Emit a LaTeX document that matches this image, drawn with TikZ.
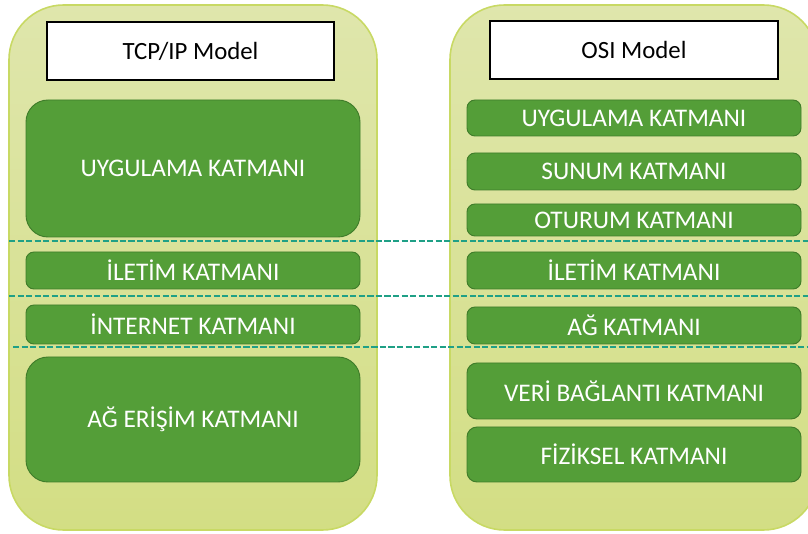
\documentclass[tikz,border=0pt]{standalone}
\usepackage{fontspec}
\setmainfont{Carlito}
\definecolor{panelTop}{HTML}{DFE6AC}
\definecolor{panelBot}{HTML}{D3DE84}
\definecolor{panelEdge}{HTML}{C8D964}
\definecolor{layerFill}{HTML}{549E38}
\definecolor{layerEdge}{HTML}{3F7C2A}
\definecolor{dashTeal}{HTML}{1FA086}
\tikzset{
  panel/.style={draw=panelEdge, line width=1.2pt, top color=panelTop, bottom color=panelBot, rounded corners=41pt},
  header/.style={draw=black, fill=white, line width=0.8pt, inner sep=0pt, font=\fontsize{18.6}{20}\selectfont},
  layerbox/.style={draw=layerEdge, fill=layerFill, line width=0.7pt, inner sep=0pt, text=white, font=\fontsize{19}{21}\selectfont},
  divider/.style={draw=dashTeal, line width=1.9pt, dash pattern=on 4.6pt off 1.8pt},
}
% \mybox{name}{style}{x1}{y1}{x2}{y2}{radius px}{text}
\newcommand{\mybox}[8]{%
  \node[#2, rounded corners={#7*0.75pt}, minimum width={(#5-#3)*0.75pt}, minimum height={(#6-#4)*0.75pt}] (#1) at ({(#3+#5)/2},{(#4+#6)/2}) {#8};}
\begin{document}
\begin{tikzpicture}[x=0.75pt,y=-0.75pt]
\useasboundingbox (0,0) rectangle (808,534);
\begin{scope}
\clip (0,0) rectangle (808,534);
% panels
\shade[panel] (9,5) rectangle (377,530);
\shade[panel] (450,5) rectangle (818,530);
% headers
\mybox{tcphead}{header}{47}{22}{334}{80}{0}{TCP/IP Model}
\mybox{osihead}{header}{490}{21}{778}{79}{0}{OSI Model}
% TCP/IP layers
\mybox{tapp}{layerbox}{26}{100}{360}{237}{22}{UYGULAMA KATMANI}
\mybox{ttrans}{layerbox}{26}{252}{360}{289}{8}{İLETİM KATMANI}
\mybox{tnet}{layerbox}{26}{305}{360}{344}{8}{İNTERNET KATMANI}
\mybox{tacc}{layerbox}{26}{357}{360}{482}{22}{AĞ ERİŞİM KATMANI}
% OSI layers
\mybox{oapp}{layerbox}{467}{100}{801}{136}{8}{UYGULAMA KATMANI}
\mybox{opres}{layerbox}{467}{153}{801}{190}{8}{SUNUM KATMANI}
\mybox{osess}{layerbox}{467}{204}{801}{236}{8}{OTURUM KATMANI}
\mybox{otrans}{layerbox}{467}{252}{801}{289}{8}{İLETİM KATMANI}
\mybox{onet}{layerbox}{467}{307}{801}{344}{8}{AĞ KATMANI}
\mybox{odata}{layerbox}{467}{363}{801}{419}{10}{VERİ BAĞLANTI KATMANI}
\mybox{ophys}{layerbox}{467}{427}{801}{482}{10}{FİZİKSEL KATMANI}
% dividers
\coordinate (d1a) at (9,241);  \coordinate (d1b) at (808,241);
\coordinate (d2a) at (9,296);  \coordinate (d2b) at (808,296);
\coordinate (d3a) at (13,347); \coordinate (d3b) at (808,347);
\draw[divider] (d1a) -- (d1b);
\draw[divider] (d2a) -- (d2b);
\draw[divider] (d3a) -- (d3b);
\end{scope}
\end{tikzpicture}
\end{document}
